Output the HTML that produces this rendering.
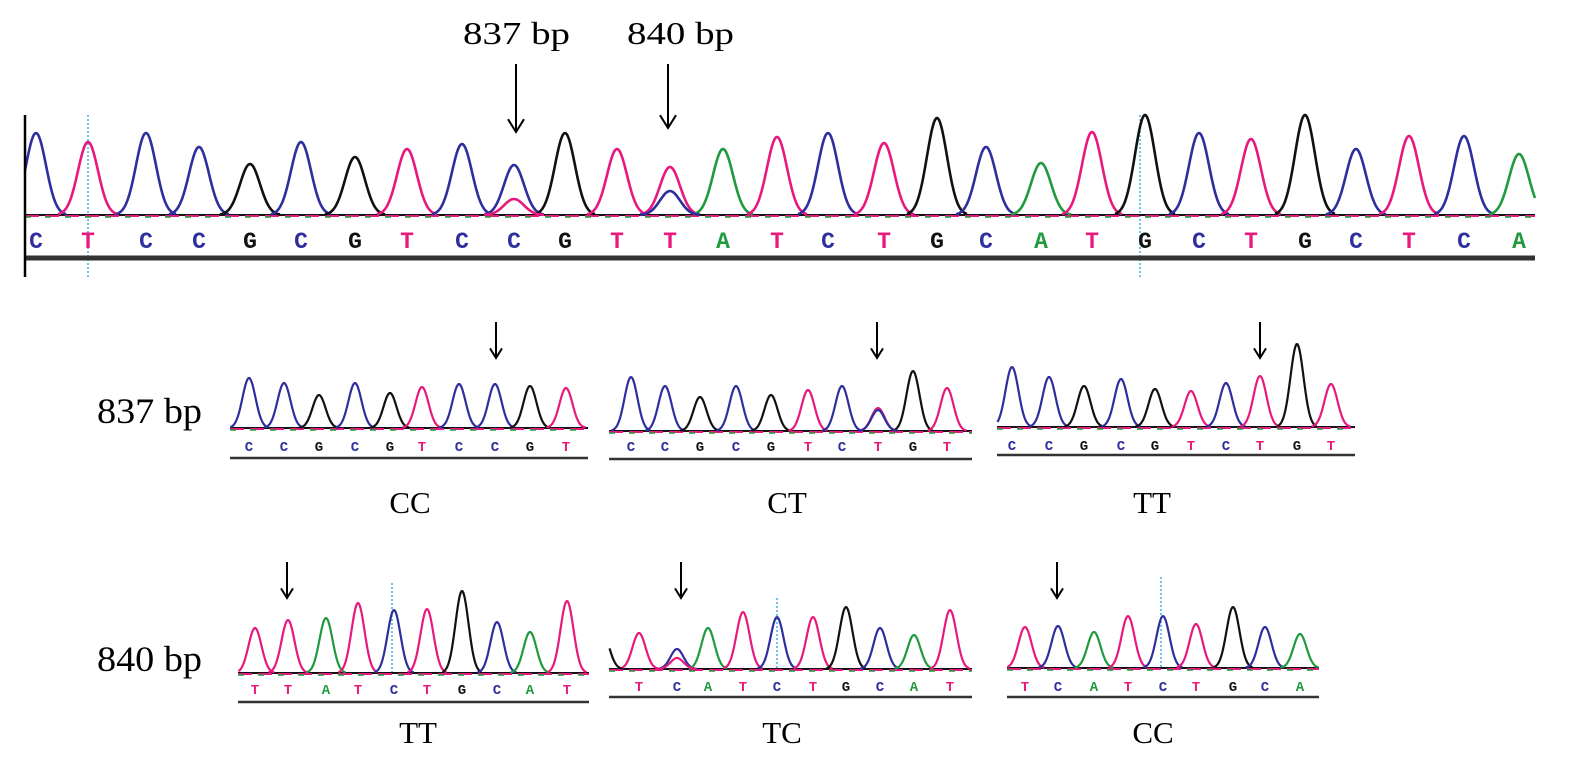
<!DOCTYPE html>
<html><head><meta charset="utf-8"><style>
html,body{margin:0;padding:0;background:#fff;}
svg{display:block}
</style></head><body>
<svg id="s" width="1575" height="758" xmlns="http://www.w3.org/2000/svg" font-family="Liberation Serif, serif">
<g font-size="32" fill="#000">
<text x="463" y="44" textLength="107" lengthAdjust="spacingAndGlyphs">837 bp</text>
<text x="627" y="44" textLength="107" lengthAdjust="spacingAndGlyphs">840 bp</text>
<text x="97" y="423" font-size="36" textLength="105" lengthAdjust="spacingAndGlyphs">837 bp</text>
<text x="97" y="671" font-size="36" textLength="105" lengthAdjust="spacingAndGlyphs">840 bp</text>
</g>
<g font-size="31" fill="#000" text-anchor="middle">
<text x="410" y="513">CC</text>
<text x="787" y="513">CT</text>
<text x="1152" y="513">TT</text>
<text x="418" y="743">TT</text>
<text x="782" y="743">TC</text>
<text x="1153" y="743">CC</text>
</g>
</svg>
<script>
var S=document.getElementById('s'),NS='http://www.w3.org/2000/svg';
function el(t,a){var e=document.createElementNS(NS,t);for(var k in a)e.setAttribute(k,a[k]);S.appendChild(e);return e;}
var COL={C:'#2e2e9e',T:'#e8197e',G:'#111',A:'#1f9a3c'};
function arrow(x,y1,y2,w){el('line',{x1:x,y1:y1,x2:x,y2:y2,stroke:'#000','stroke-width':2});
 el('polyline',{points:(x-w)+','+(y2-w*1.6)+' '+x+','+y2+' '+(x+w)+','+(y2-w*1.6),fill:'none',stroke:'#000','stroke-width':2});}
function panel(p){
 var x0=p.x0,x1=p.x1,b=p.base,sg=p.sig;
 el('line',{x1:x0,y1:b,x2:x1,y2:b,stroke:'#111','stroke-width':2});
 el('line',{x1:x0,y1:b+1,x2:x1,y2:b+1,stroke:'#e8197e','stroke-width':2,'stroke-dasharray':'14 6'});
 el('line',{x1:x0,y1:b+2,x2:x1,y2:b+2,stroke:'#1f9a3c','stroke-width':1.5,'stroke-dasharray':'6 14'});
 var peaks=[];
 for(var i=0;i<p.seq.length;i++)peaks.push({b:p.seq[i],x:p.xs[i],t:p.tops[i]});
 (p.extra||[]).forEach(function(e){peaks.push(e)});
 peaks.forEach(function(k){
  var h=b-k.t,d='';
  for(var dx=-3*sg;dx<=3*sg;dx+=1){var y=b-h*Math.exp(-dx*dx/(2*sg*sg));var x=k.x+dx;if(x<x0||x>x1)continue;d+=(d?'L':'M')+x.toFixed(1)+','+y.toFixed(1);}
  el('path',{d:d,fill:'none',stroke:COL[k.b],'stroke-width':p.sw||2.2});
 });
 for(var i=0;i<p.seq.length;i++){var t=el('text',{x:p.xs[i],y:p.ly,'text-anchor':'middle','font-family':'Liberation Mono, monospace','font-weight':'bold','font-size':p.fs,fill:COL[p.seq[i]]});t.textContent=p.seq[i];}
 el('line',{x1:x0,y1:p.uy,x2:x1,y2:p.uy,stroke:'#333','stroke-width':p.uw||2.5});
}
el('line',{x1:88,y1:115,x2:88,y2:277,stroke:'#3ab0e8','stroke-width':1.5,'stroke-dasharray':'2 2'});
el('line',{x1:1140,y1:115,x2:1140,y2:277,stroke:'#3ab0e8','stroke-width':1.5,'stroke-dasharray':'2 2'});
panel({x0:25,x1:1535,base:215,sig:10,ly:248,uy:258,uw:5,fs:23,sw:2.6,
 seq:'CTCCGCGTCCGTTATCTGCATGCTGCTCA',
 xs:[36,88,146,199,250,301,355,407,462,514,565,617,670,723,777,828,884,937,986,1041,1092,1145,1199,1251,1305,1356,1409,1464,1519],
 tops:[133,142,133,147,164,142,157,149,144,165,133,149,167,149,137,133,143,118,147,163,132,115,133,139,115,149,136,136,154],
 extra:[{b:'T',x:514,t:199},{b:'C',x:670,t:191}]});
el('line',{x1:25,y1:115,x2:25,y2:277,stroke:'#000','stroke-width':2.5});
arrow(516,64,132,8);arrow(668,64,128,8);
panel({x0:230,x1:588,base:428,sig:6.5,ly:451,uy:458,fs:14,
 seq:'CCGCGTCCGT',xs:[249,284,319,355,390,422,459,495,530,566],tops:[378,383,395,383,393,387,384,384,386,388]});
panel({x0:609,x1:972,base:431,sig:6.5,ly:451,uy:459,fs:14,
 seq:'CCGCGTCTGT',xs:[631,665,700,736,771,808,842,878,913,947],tops:[377,386,397,386,395,390,386,408,371,388],
 extra:[{b:'C',x:878,t:410}]});
panel({x0:997,x1:1355,base:427,sig:6.5,ly:450,uy:455,fs:14,
 seq:'CCGCGTCTGT',xs:[1012,1049,1084,1121,1155,1191,1226,1260,1297,1331],tops:[367,377,386,379,389,391,383,376,344,384]});
arrow(496,322,358,6);arrow(877,322,358,6);arrow(1260,322,358,6);
el('line',{x1:392,y1:583,x2:392,y2:673,stroke:'#3ab0e8','stroke-width':1.5,'stroke-dasharray':'2 2'});
el('line',{x1:777,y1:598,x2:777,y2:669,stroke:'#3ab0e8','stroke-width':1.5,'stroke-dasharray':'2 2'});
el('line',{x1:1161,y1:577,x2:1161,y2:668,stroke:'#3ab0e8','stroke-width':1.5,'stroke-dasharray':'2 2'});
panel({x0:238,x1:589,base:673,sig:6.5,ly:694,uy:702,fs:14,
 seq:'TTATCTGCAT',xs:[255,288,326,358,394,427,462,497,530,567],tops:[628,620,618,603,610,609,591,622,632,601]});
panel({x0:609,x1:972,base:669,sig:6.5,ly:691,uy:697,fs:14,
 seq:'TCATCTGCAT',xs:[639,677,708,743,777,813,846,880,914,950],tops:[633,649,628,612,617,617,607,628,635,610],
 extra:[{b:'G',x:603,t:635},{b:'T',x:677,t:658}]});
panel({x0:1007,x1:1319,base:668,sig:6.5,ly:691,uy:697,fs:14,
 seq:'TCATCTGCA',xs:[1025,1058,1094,1128,1163,1196,1233,1265,1300],tops:[627,626,632,616,616,624,607,627,634]});
arrow(287,562,598,6);arrow(681,562,598,6);arrow(1057,562,598,6);
</script>
</body></html>
